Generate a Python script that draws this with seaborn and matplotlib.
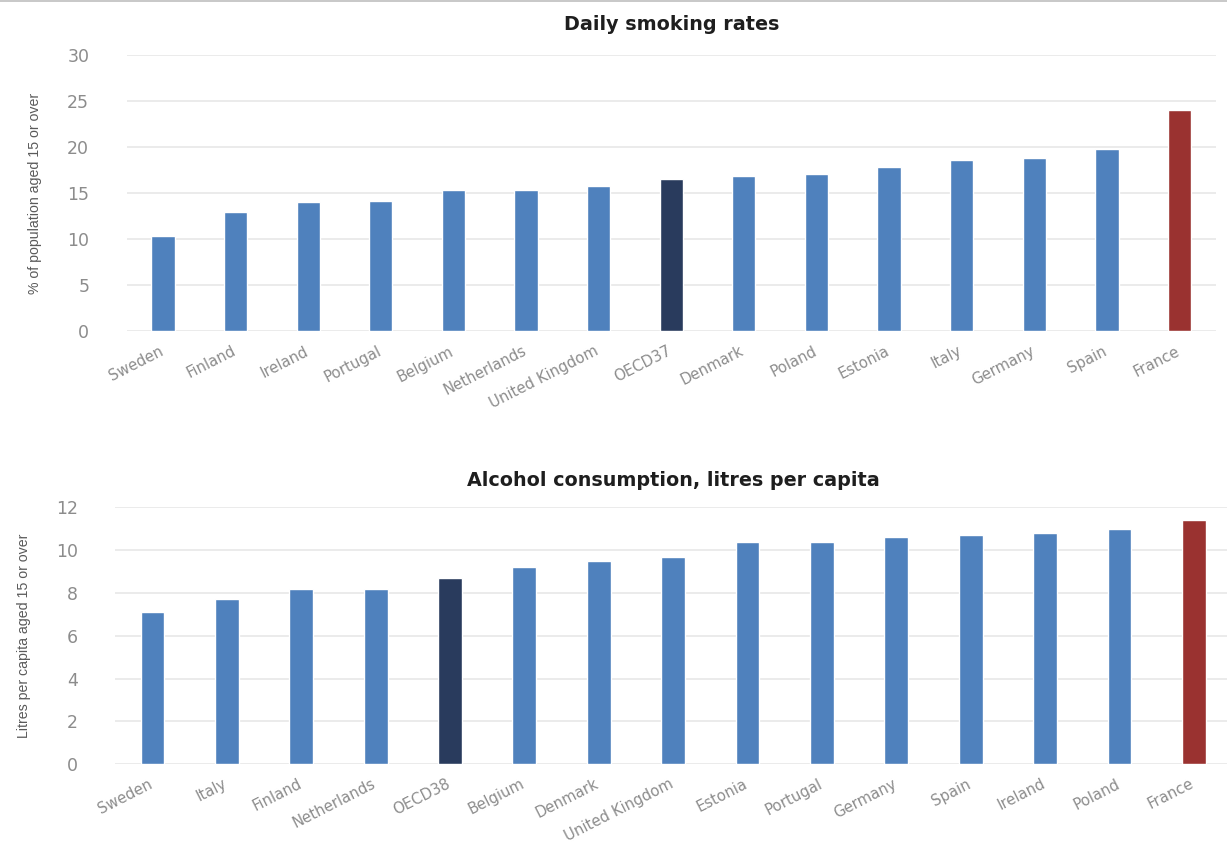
import matplotlib
matplotlib.use("Agg")
import matplotlib.pyplot as plt
from matplotlib import font_manager
from matplotlib.lines import Line2D
from matplotlib.transforms import ScaledTranslation
import seaborn as sns
import pandas as pd

# Daily smoking rates (% of population aged 15 or over)
smoking_countries = ["Sweden", "Finland", "Ireland", "Portugal", "Belgium", "Netherlands",
                     "United Kingdom", "OECD37", "Denmark", "Poland", "Estonia", "Italy",
                     "Germany", "Spain", "France"]
smoking_values = [10.4, 13.0, 14.0, 14.2, 15.4, 15.4, 15.8, 16.5, 16.9, 17.1, 17.9, 18.6,
                  18.8, 19.8, 24.0]

# Alcohol consumption (litres per capita aged 15 or over)
alcohol_countries = ["Sweden", "Italy", "Finland", "Netherlands", "OECD38", "Belgium",
                     "Denmark", "United Kingdom", "Estonia", "Portugal", "Germany", "Spain",
                     "Ireland", "Poland", "France"]
alcohol_values = [7.1, 7.7, 8.2, 8.2, 8.7, 9.2, 9.5, 9.7, 10.4, 10.4, 10.6, 10.7, 10.8,
                  11.0, 11.4]

smoking_ticks = [0, 5, 10, 15, 20, 25, 30]
alcohol_ticks = [0, 2, 4, 6, 8, 10, 12]

BLUE = "#4f81bd"
NAVY = "#293b5d"
RED = "#9a3230"
GRID = "#ebebeb"
TICK = "#8c8c8c"
LABEL = "#5a5a5a"


def bar_color(name):
    if name.startswith("OECD"):
        return NAVY
    if name == "France":
        return RED
    return BLUE


sns.set_theme(style="white")
plt.rcParams["font.family"] = ["DejaVu Sans"]

installed = {f.name for f in font_manager.fontManager.ttflist}
if "Liberation Sans Narrow" in installed:
    ylabel_family, ylabel_size = "Liberation Sans Narrow", 12.6
else:
    ylabel_family, ylabel_size = "Liberation Sans", 10.2

fig = plt.figure(figsize=(12.27, 8.46), dpi=100)
W, H = 1227.0, 846.0

ax_top = fig.add_axes([126.7 / W, 1 - 331.5 / H, (1215.8 - 126.7) / W, (331.5 - 55.0) / H])
ax_bot = fig.add_axes([115.3 / W, 1 - 764.3 / H, (1231.0 - 115.3) / W, (764.3 - 507.3) / H])


def draw(ax, countries, values, ticks, title, ylabel, title_pad):
    df = pd.DataFrame({"country": countries, "value": values})
    palette = {c: bar_color(c) for c in countries}
    sns.barplot(data=df, x="country", y="value", hue="country", palette=palette,
                legend=False, width=0.32, saturation=1, ax=ax, zorder=3)
    ax.set_xlim(-0.5, len(countries) - 0.5)
    ax.set_ylim(ticks[0], ticks[-1])
    ax.set_yticks(ticks)
    ax.yaxis.grid(True, color=GRID, linewidth=1.4, zorder=0)
    ax.xaxis.grid(False)
    ax.set_axisbelow(True)
    for s in ax.spines.values():
        s.set_visible(False)
    ax.tick_params(axis="y", length=0, pad=27, labelsize=12.5, labelcolor=TICK)

    # slanted category names hung below each bar, ending at the bar
    ax.set_xticks(range(len(countries)))
    ax.set_xticklabels([])
    ax.tick_params(axis="x", length=0)
    shift = ScaledTranslation(-3 / 72, -8.6 / 72, fig.dpi_scale_trans)
    for i, name in enumerate(countries):
        ax.text(i, 0, name, transform=ax.get_xaxis_transform() + shift,
                rotation=27, rotation_mode="anchor", ha="right", va="top",
                fontsize=10.7, color=TICK)

    ax.set_xlabel("")
    ax.set_ylabel(ylabel, family=[ylabel_family, "DejaVu Sans"], fontsize=ylabel_size,
                  color=LABEL, labelpad=18)
    ax.set_title(title, fontsize=13.8, fontweight="bold", color="#1e1e1e", pad=title_pad)


draw(ax_top, smoking_countries, smoking_values, smoking_ticks,
     "Daily smoking rates", "% of population aged 15 or over", 18)
draw(ax_bot, alcohol_countries, alcohol_values, alcohol_ticks,
     "Alcohol consumption, litres per capita", "Litres per capita aged 15 or over", 15)

# thin frame line along the top edge
fig.add_artist(Line2D([0, 1], [1 - 0.8 / H, 1 - 0.8 / H], transform=fig.transFigure,
                      color="#c4c4c4", linewidth=1.3))

fig.savefig("out.png", dpi=100, facecolor="white")
